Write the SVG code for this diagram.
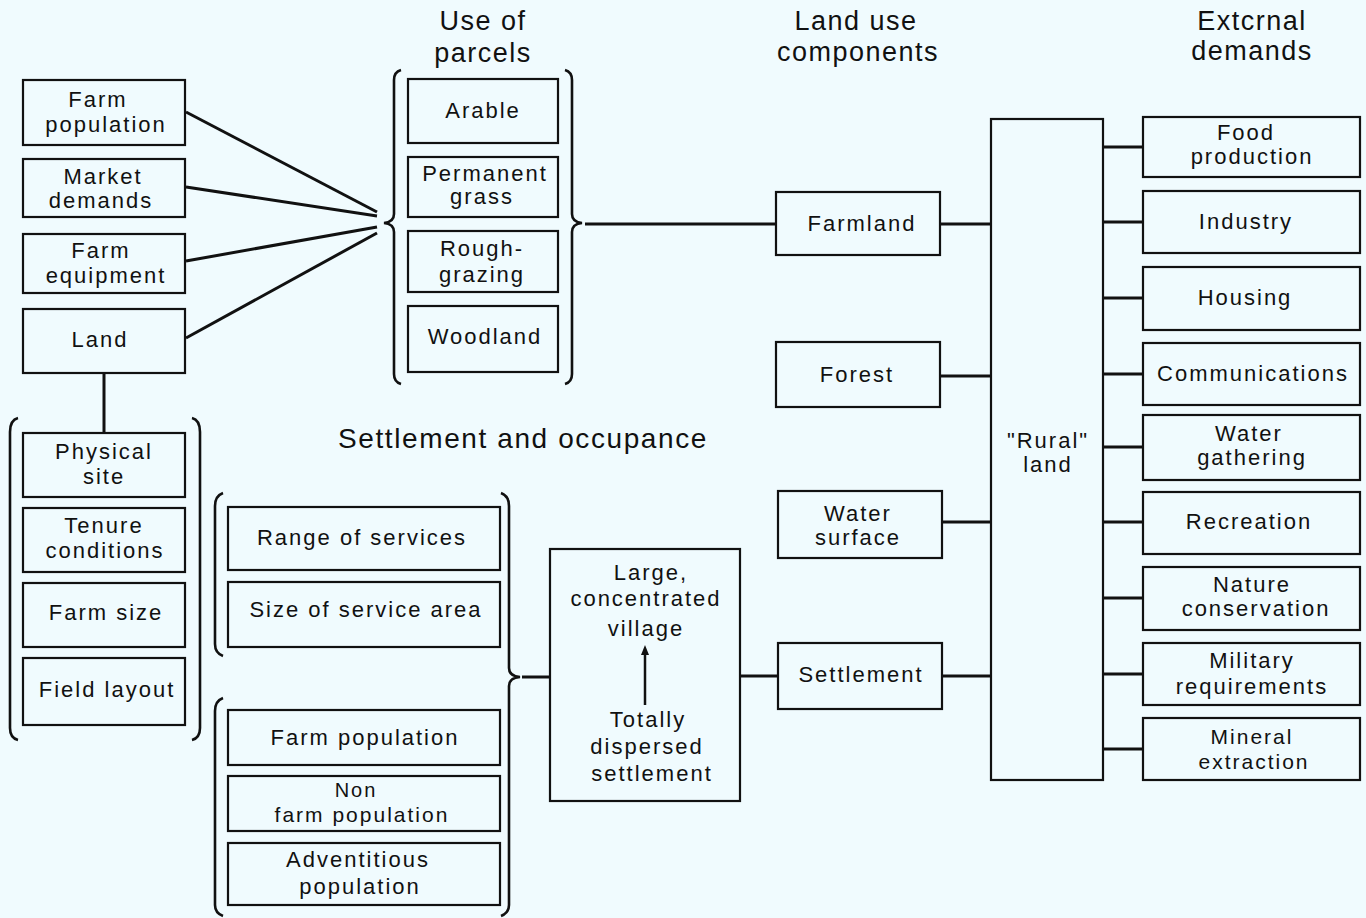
<svg xmlns="http://www.w3.org/2000/svg" width="1366" height="918" viewBox="0 0 1366 918">
<defs>
<style>
.bx{fill:none;stroke:#111;stroke-width:2.2}
.t{font-family:"Liberation Sans",Arial,sans-serif;font-size:22px;fill:#111;text-anchor:middle;letter-spacing:2px}
.h{font-family:"Liberation Sans",Arial,sans-serif;font-size:27px;fill:#111;text-anchor:middle;letter-spacing:1.5px}
.c{fill:none;stroke:#111;stroke-width:3}
.br{fill:none;stroke:#111;stroke-width:2.6}
</style>
<marker id="ah" viewBox="0 0 10 10" refX="5" refY="5" markerWidth="4" markerHeight="6" orient="auto"><path d="M0,1 L10,5 L0,9 z" fill="#111"/></marker>
</defs>
<rect width="1366" height="918" fill="#f0fbfe"/>

<g id="headers">
<text class="h" x="483" y="30">Use of</text>
<text class="h" x="483" y="62">parcels</text>
<text class="h" x="856" y="30">Land use</text>
<text class="h" x="858" y="61">components</text>
<text class="h" x="1252" y="30">Extcrnal</text>
<text class="h" x="1252" y="60">demands</text>
<text class="h" x="523" y="448" style="font-size:28px;letter-spacing:1.6px">Settlement and occupance</text>
</g>

<g id="connectors">
<line class="c" x1="186" y1="112" x2="377" y2="212"/>
<line class="c" x1="186" y1="187" x2="377" y2="216"/>
<line class="c" x1="186" y1="261" x2="377" y2="227"/>
<line class="c" x1="186" y1="338" x2="377" y2="233"/>
<line class="c" x1="104" y1="373" x2="104" y2="433"/>
<line class="c" x1="585" y1="224" x2="776" y2="224"/>
<line class="c" x1="941" y1="224" x2="991" y2="224"/>
<line class="c" x1="941" y1="376" x2="991" y2="376"/>
<line class="c" x1="942" y1="522" x2="991" y2="522"/>
<line class="c" x1="942" y1="676" x2="991" y2="676"/>
<line class="c" x1="522" y1="677" x2="550" y2="677"/>
<line class="c" x1="740" y1="676" x2="778" y2="676"/>
<line class="c" x1="1103" y1="147" x2="1143" y2="147"/>
<line class="c" x1="1103" y1="222" x2="1143" y2="222"/>
<line class="c" x1="1103" y1="298" x2="1143" y2="298"/>
<line class="c" x1="1103" y1="374" x2="1143" y2="374"/>
<line class="c" x1="1103" y1="447" x2="1143" y2="447"/>
<line class="c" x1="1103" y1="522" x2="1143" y2="522"/>
<line class="c" x1="1103" y1="598" x2="1143" y2="598"/>
<line class="c" x1="1103" y1="674" x2="1143" y2="674"/>
<line class="c" x1="1103" y1="749" x2="1143" y2="749"/>
<line x1="645" y1="705" x2="645" y2="650" stroke="#111" stroke-width="2.5" marker-end="url(#ah)"/>
</g>

<g id="brackets">
<path class="br" d="M401,70 Q394,72 394,80 L394,214 Q394,222 384,223 Q394,224 394,232 L394,374 Q394,382 401,384"/>
<path class="br" d="M565,70 Q572,72 572,80 L572,214 Q572,222 582,223 Q572,224 572,232 L572,374 Q572,382 565,384"/>
<path class="br" d="M18,418 Q10,420 10,432 L10,728 Q10,738 18,740"/>
<path class="br" d="M192,418 Q200,420 200,432 L200,728 Q200,738 192,740"/>
<path class="br" d="M223,493 Q215,496 215,506 L215,644 Q215,653 223,656"/>
<path class="br" d="M223,698 Q215,701 215,711 L215,905 Q215,913 223,916"/>
<path class="br" d="M501,493 Q509,496 509,506 L509,668 Q509,676 520,677 Q509,678 509,686 L509,905 Q509,913 501,916"/>
</g>

<g id="n-farm-population"><rect class="bx" x="23" y="80" width="162" height="65"/><text class="t" x="98" y="107">Farm</text><text class="t" x="106" y="132">population</text></g>
<g id="n-market-demands"><rect class="bx" x="23" y="159" width="162" height="58"/><text class="t" x="103" y="184">Market</text><text class="t" x="101" y="208">demands</text></g>
<g id="n-farm-equipment"><rect class="bx" x="23" y="234" width="162" height="59"/><text class="t" x="101" y="258">Farm</text><text class="t" x="106" y="283">equipment</text></g>
<g id="n-land"><rect class="bx" x="23" y="309" width="162" height="64"/><text class="t" x="100" y="347">Land</text></g>

<g id="n-physical-site"><rect class="bx" x="23" y="433" width="162" height="64"/><text class="t" x="104" y="459">Physical</text><text class="t" x="104" y="484">site</text></g>
<g id="n-tenure"><rect class="bx" x="23" y="508" width="162" height="64"/><text class="t" x="104" y="533">Tenure</text><text class="t" x="105" y="558">conditions</text></g>
<g id="n-farm-size"><rect class="bx" x="23" y="583" width="162" height="64"/><text class="t" x="106" y="620">Farm size</text></g>
<g id="n-field-layout"><rect class="bx" x="23" y="658" width="162" height="67"/><text class="t" x="107" y="697">Field layout</text></g>

<g id="n-arable"><rect class="bx" x="408" y="79" width="150" height="64"/><text class="t" x="483" y="118">Arable</text></g>
<g id="n-permanent-grass"><rect class="bx" x="408" y="157" width="150" height="60"/><text class="t" x="485" y="181">Permanent</text><text class="t" x="482" y="204">grass</text></g>
<g id="n-rough-grazing"><rect class="bx" x="408" y="231" width="150" height="61"/><text class="t" x="482" y="256">Rough-</text><text class="t" x="482" y="282">grazing</text></g>
<g id="n-woodland"><rect class="bx" x="408" y="306" width="150" height="66"/><text class="t" x="485" y="344">Woodland</text></g>

<g id="n-farmland"><rect class="bx" x="776" y="192" width="164" height="63"/><text class="t" x="862" y="231">Farmland</text></g>
<g id="n-forest"><rect class="bx" x="776" y="342" width="164" height="65"/><text class="t" x="857" y="382">Forest</text></g>
<g id="n-water-surface"><rect class="bx" x="778" y="491" width="164" height="67"/><text class="t" x="858" y="521">Water</text><text class="t" x="858" y="545">surface</text></g>
<g id="n-settlement"><rect class="bx" x="778" y="643" width="164" height="66"/><text class="t" x="861" y="682">Settlement</text></g>

<g id="n-rural-land"><rect class="bx" x="991" y="119" width="112" height="661"/><text class="t" x="1048" y="448">"Rural"</text><text class="t" x="1048" y="472">land</text></g>

<g id="n-range-services"><rect class="bx" x="228" y="507" width="272" height="63"/><text class="t" x="362" y="545">Range of services</text></g>
<g id="n-size-service-area"><rect class="bx" x="228" y="582" width="272" height="65"/><text class="t" x="366" y="617">Size of service area</text></g>
<g id="n-farm-pop2"><rect class="bx" x="228" y="710" width="272" height="55"/><text class="t" x="365" y="745">Farm population</text></g>
<g id="n-nonfarm-pop"><rect class="bx" x="228" y="776" width="272" height="55"/><text class="t" x="356" y="797" style="font-size:20px">Non</text><text class="t" x="362" y="822" style="font-size:21px">farm population</text></g>
<g id="n-adventitious"><rect class="bx" x="228" y="843" width="272" height="62"/><text class="t" x="358" y="867">Adventitious</text><text class="t" x="360" y="894">population</text></g>

<g id="n-village"><rect class="bx" x="550" y="549" width="190" height="252"/>
<text class="t" x="651" y="580">Large,</text><text class="t" x="646" y="606">concentrated</text><text class="t" x="646" y="636">village</text>
<text class="t" x="648" y="727">Totally</text><text class="t" x="647" y="754">dispersed</text><text class="t" x="652" y="781">settlement</text></g>

<g id="n-food"><rect class="bx" x="1143" y="117" width="217" height="60"/><text class="t" x="1246" y="140">Food</text><text class="t" x="1252" y="164">production</text></g>
<g id="n-industry"><rect class="bx" x="1143" y="191" width="217" height="62"/><text class="t" x="1246" y="229">Industry</text></g>
<g id="n-housing"><rect class="bx" x="1143" y="267" width="217" height="63"/><text class="t" x="1245" y="305">Housing</text></g>
<g id="n-communications"><rect class="bx" x="1143" y="343" width="217" height="62"/><text class="t" x="1253" y="381">Communications</text></g>
<g id="n-water-gathering"><rect class="bx" x="1143" y="415" width="217" height="65"/><text class="t" x="1249" y="441">Water</text><text class="t" x="1252" y="465">gathering</text></g>
<g id="n-recreation"><rect class="bx" x="1143" y="492" width="217" height="62"/><text class="t" x="1249" y="529">Recreation</text></g>
<g id="n-nature"><rect class="bx" x="1143" y="567" width="217" height="63"/><text class="t" x="1252" y="592">Nature</text><text class="t" x="1256" y="616">conservation</text></g>
<g id="n-military"><rect class="bx" x="1143" y="643" width="217" height="62"/><text class="t" x="1252" y="668">Military</text><text class="t" x="1252" y="694">requirements</text></g>
<g id="n-mineral"><rect class="bx" x="1143" y="718" width="217" height="62"/><text class="t" x="1252" y="744" style="font-size:21px">Mineral</text><text class="t" x="1254" y="769" style="font-size:21px">extraction</text></g>
</svg>
